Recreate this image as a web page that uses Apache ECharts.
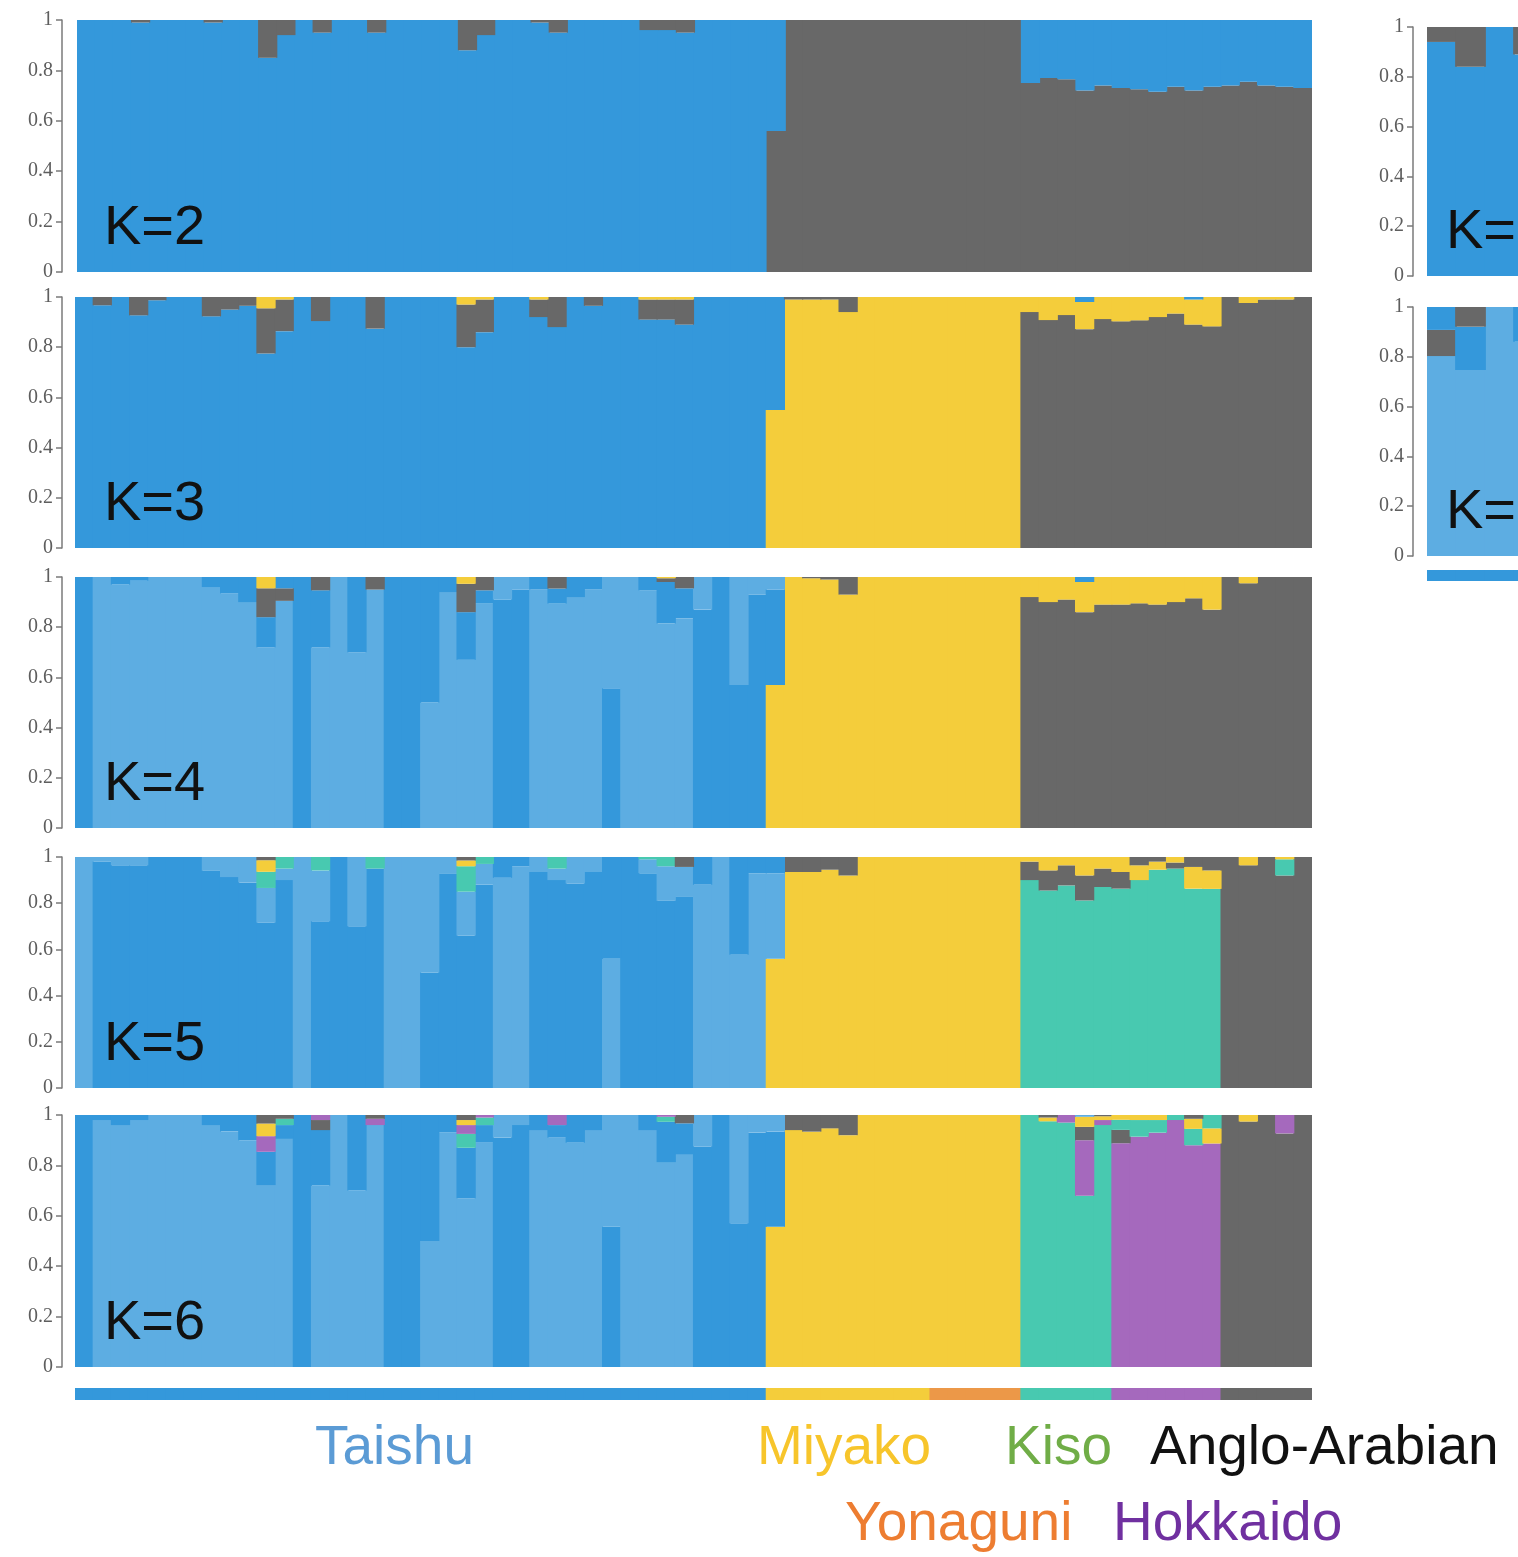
<!DOCTYPE html>
<html>
<head>
<meta charset="utf-8" />
<title>Structure K=2-6</title>
<style type="text/css">
  html, body { margin: 0; padding: 0; background: #fff; }
  #main { width: 1518px; height: 1557px; }
</style>
<script src="https://cdn.jsdelivr.net/npm/echarts@6.0.0/dist/echarts.min.js" type="text/javascript" charset="utf-8"></script>
</head>
<body>
<div id="main"></div>
<script type="text/javascript">
// populations in plot order
var popNames = ['Taishu', 'Miyako', 'Yonaguni', 'Kiso', 'Hokkaido', 'Anglo-Arabian'];
var popSizes = [38, 9, 5, 5, 6, 5];
var popBarColors = ['#3498db', '#f4cd3b', '#ec9848', '#48c9b0', '#a569bd', '#686868'];
var popTextColors = ['#5b9bd5', '#f7c52b', '#ed7d31', '#70ad47', '#7030a0', '#111111'];
var yTicks = [0, 0.2, 0.4, 0.6, 0.8, 1];

// ancestry proportions per individual (68), grouped 38 | 9 | 5 | 5 | 6 | 5
var k2Blue = [
  1,1,1,0.99,1,1,1,0.99,1,1,
  0.85,0.94,1,0.95,1,1,0.95,1,1,1,
  1,0.88,0.94,1,1,0.99,0.95,1,1,1,
  1,0.96,0.96,0.95,1,1,1,1,
  0.44,0,0,0,0,0,0,0,0,
  0,0,0,0,0,
  0.25,0.23,0.235,0.28,0.26,
  0.27,0.275,0.285,0.265,0.28,0.265,
  0.26,0.245,0.26,0.265,0.27];
var k2Gray = [
  0,0,0,0.01,0,0,0,0.01,0,0,
  0.15,0.06,0,0.05,0,0,0.05,0,0,0,
  0,0.12,0.06,0,0,0.01,0.05,0,0,0,
  0,0.04,0.04,0.05,0,0,0,0,
  0.56,1,1,1,1,1,1,1,1,
  1,1,1,1,1,
  0.75,0.77,0.765,0.72,0.74,
  0.73,0.725,0.715,0.735,0.72,0.735,
  0.74,0.755,0.74,0.735,0.73];

var k3Blue = [
  1,0.967,1,0.927,0.987,1,1,0.923,0.95,0.965,
  0.775,0.864,1,0.904,1,1,0.874,1,1,1,
  1,0.8,0.86,1,1,0.92,0.88,1,0.965,1,
  1,0.91,0.91,0.89,1,1,1,1,
  0.45,0,0,0,0,0,0,0,0,
  0,0,0,0,0,
  0,0,0,0.02,0,
  0,0,0,0,0.01,0,
  0,0,0,0,0];
var k3Yellow = [
  0,0,0,0,0,0,0,0,0,0,
  0.045,0.01,0,0,0,0,0,0,0,0,
  0,0.03,0.01,0,0,0.01,0,0,0,0,
  0,0.01,0.01,0.01,0,0,0,0,
  0.55,0.99,0.99,0.99,0.94,1,1,1,1,
  1,1,1,1,1,
  0.06,0.092,0.072,0.108,0.088,
  0.097,0.093,0.08,0.066,0.1,0.117,
  0,0.024,0.01,0.01,0];
var k3Gray = [
  0,0.033,0,0.073,0.013,0,0,0.077,0.05,0.035,
  0.18,0.126,0,0.096,0,0,0.126,0,0,0,
  0,0.17,0.13,0,0,0.07,0.12,0,0.035,0,
  0,0.08,0.08,0.1,0,0,0,0,
  0,0.01,0.01,0.01,0.06,0,0,0,0,
  0,0,0,0,0,
  0.94,0.908,0.928,0.872,0.912,
  0.903,0.907,0.92,0.934,0.89,0.883,
  1,0.976,0.99,0.99,1];

var k4Light = [
  0,1,0.97,0.985,1,1,1,0.96,0.935,0.9,
  0.72,0.905,0,0.72,1,0.7,0.95,0,0,0.5,
  0.94,0.67,0.894,0.09,0.05,0.95,0.894,0.92,0.95,0.443,
  1,0.947,0.815,0.835,0.13,0,0.43,0.07,
  0.05,0,0,0,0,0,0,0,0,
  0,0,0,0,0,
  0,0,0,0,0,
  0,0,0,0,0,0,
  0,0,0,0,0];
var k4Dark = [
  1,0,0.03,0.015,0,0,0,0.04,0.065,0.1,
  0.12,0.045,1,0.227,0,0.3,0,1,1,0.5,
  0.06,0.19,0.053,0.91,0.95,0.05,0.06,0.08,0.05,0.557,
  0,0.053,0.165,0.12,0.87,1,0.57,0.93,
  0.38,0,0,0,0,0,0,0,0,
  0,0,0,0,0,
  0,0,0,0.02,0,
  0,0,0,0,0,0,
  0,0,0,0,0];
var k4Yellow = [
  0,0,0,0,0,0,0,0,0,0,
  0.045,0,0,0,0,0,0,0,0,0,
  0,0.027,0,0,0,0,0,0,0,0,
  0,0,0.005,0,0,0,0,0,
  0.57,1,0.995,0.99,0.93,1,1,1,1,
  1,1,1,1,1,
  0.08,0.1,0.09,0.12,0.11,
  0.11,0.105,0.11,0.1,0.085,0.13,
  0,0.025,0,0,0];
var k4Gray = [
  0,0,0,0,0,0,0,0,0,0,
  0.115,0.05,0,0.053,0,0,0.05,0,0,0,
  0,0.113,0.053,0,0,0,0.046,0,0,0,
  0,0,0.015,0.045,0,0,0,0,
  0,0,0.005,0.01,0.07,0,0,0,0,
  0,0,0,0,0,
  0.92,0.9,0.91,0.86,0.89,
  0.89,0.895,0.89,0.9,0.915,0.87,
  1,0.975,1,1,1];

var k5Dark = [
  0,0.98,0.964,0.964,1,1,1,0.94,0.913,0.89,
  0.716,0.9,0,0.722,1,0.7,0.95,0,0,0.5,
  0.93,0.66,0.88,0.09,0.04,0.935,0.9,0.885,0.935,0.44,
  1,0.93,0.81,0.827,0.12,0,0.423,0.07,
  0.07,0,0,0,0,0,0,0,0,
  0,0,0,0,0,
  0,0,0,0,0,
  0,0,0,0,0,0,
  0,0,0,0,0];
var k5Light = [
  1,0.02,0.036,0.036,0,0,0,0.06,0.087,0.11,
  0.15,0.05,1,0.22,0,0.3,0,1,1,0.5,
  0.07,0.19,0.09,0.91,0.96,0.065,0.05,0.115,0.065,0.56,
  0,0.06,0.15,0.13,0.88,1,0.577,0.93,
  0.37,0,0,0,0,0,0,0,0,
  0,0,0,0,0,
  0,0,0,0,0,
  0,0,0,0,0,0,
  0,0,0,0,0];
var k5Yellow = [
  0,0,0,0,0,0,0,0,0,0,
  0.05,0,0,0,0,0,0,0,0,0,
  0,0.025,0,0,0,0,0,0,0,0,
  0,0,0,0,0,0,0,0,
  0.56,0.935,0.935,0.945,0.92,1,1,1,1,
  1,1,1,1,1,
  0.02,0.058,0.036,0.08,0.05,
  0.065,0.064,0.035,0.024,0.094,0.08,
  0,0.036,0,0.01,0];
var k5Teal = [
  0,0,0,0,0,0,0,0,0,0,
  0.07,0.05,0,0.058,0,0,0.05,0,0,0,
  0,0.11,0.03,0,0,0,0.05,0,0,0,
  0,0.01,0.04,0,0,0,0,0,
  0,0,0,0,0,0,0,0,0,
  0,0,0,0,0,
  0.9,0.855,0.877,0.812,0.87,
  0.863,0.9,0.945,0.95,0.863,0.862,
  0,0,0,0.07,0];
var k5Gray = [
  0,0,0,0,0,0,0,0,0,0,
  0.014,0,0,0,0,0,0,0,0,0,
  0,0.015,0,0,0,0,0,0,0,0,
  0,0,0,0.043,0,0,0,0,
  0,0.065,0.065,0.055,0.08,0,0,0,0,
  0,0,0,0,0,
  0.08,0.087,0.087,0.108,0.08,
  0.072,0.036,0.02,0.026,0.043,0.058,
  1,0.964,1,0.92,1];

var k6Light = [
  0,0.98,0.96,0.98,1,1,1,0.96,0.935,0.9,
  0.722,0.905,0,0.72,1,0.7,0.96,0,0,0.5,
  0.93,0.67,0.89,0.09,0.04,0.94,0.91,0.89,0.94,0.443,
  1,0.94,0.813,0.842,0.125,0,0.43,0.07,
  0.066,0,0,0,0,0,0,0,0,
  0,0,0,0,0,
  0,0,0,0.007,0,
  0,0,0,0,0,0,
  0,0,0,0,0];
var k6Dark = [
  1,0.02,0.04,0.02,0,0,0,0.04,0.065,0.1,
  0.132,0.055,1,0.22,0,0.3,0,1,1,0.5,
  0.07,0.2,0.07,0.91,0.96,0.06,0.05,0.11,0.06,0.557,
  0,0.06,0.16,0.125,0.875,1,0.57,0.93,
  0.377,0,0,0,0,0,0,0,0,
  0,0,0,0,0,
  0,0,0,0,0,
  0,0,0,0,0,0,
  0,0,0,0,0];
var k6Yellow = [
  0,0,0,0,0,0,0,0,0,0,
  0.05,0,0,0,0,0,0,0,0,0,
  0,0.02,0,0,0,0,0,0,0,0,
  0,0,0,0,0,0,0,0,
  0.557,0.94,0.934,0.947,0.92,1,1,1,1,
  1,1,1,1,1,
  0,0.015,0,0.04,0.015,
  0.019,0.02,0.02,0,0.04,0.06,
  0,0.026,0,0,0];
var k6Teal = [
  0,0,0,0,0,0,0,0,0,0,
  0,0.025,0,0,0,0,0,0,0,0,
  0,0.055,0.03,0,0,0,0,0,0,0,
  0,0,0.02,0,0,0,0,0,
  0,0,0,0,0,0,0,0,0,
  0,0,0,0,0,
  1,0.975,0.97,0.68,0.96,
  0.04,0.066,0.05,0.02,0.065,0.053,
  0,0,0,0,0];
var k6Purple = [
  0,0,0,0,0,0,0,0,0,0,
  0.062,0,0,0.02,0,0,0.025,0,0,0,
  0,0.035,0.01,0,0,0,0.04,0,0,0,
  0,0,0.007,0,0,0,0,0,
  0,0,0,0,0,0,0,0,0,
  0,0,0,0,0,
  0,0,0.03,0.22,0.02,
  0.888,0.914,0.93,0.98,0.88,0.887,
  0,0,0,0.073,0];
var k6Gray = [
  0,0,0,0,0,0,0,0,0,0,
  0.034,0.015,0,0.04,0,0,0.015,0,0,0,
  0,0.02,0,0,0,0,0,0,0,0,
  0,0,0,0.033,0,0,0,0,
  0,0.06,0.066,0.053,0.08,0,0,0,0,
  0,0,0,0,0,
  0,0.01,0,0.053,0.005,
  0.053,0,0,0,0.015,0,
  1,0.974,1,0.927,1];

// the cut-off panels on the right edge (only the first bars are visible)
var r1Blue = [0.94, 0.84, 1, 0.89];
var r1Gray = [0.06, 0.16, 0, 0.11];
var r2Light = [0.803, 0.747, 1, 0.86];
var r2Dark = [0.092, 0.174, 0, 0.14];
var r2Gray = [0.105, 0.079, 0, 0];

var cDark = '#3498db', cLight = '#5dade2', cYellow = '#f4cd3b',
    cTeal = '#48c9b0', cPurple = '#a569bd', cGray = '#686868';

var panels = [
  {label: 'K=2', comps: [k2Blue, k2Gray], colors: [cDark, cGray], left: 77, top: 20, width: 1235, height: 252, offset: 15, textX: 104},
  {label: 'K=3', comps: [k3Blue, k3Yellow, k3Gray], colors: [cDark, cYellow, cGray], left: 75, top: 297, width: 1237, height: 251, offset: 13, textX: 104},
  {label: 'K=4', comps: [k4Light, k4Dark, k4Yellow, k4Gray], colors: [cLight, cDark, cYellow, cGray], left: 75, top: 577, width: 1237, height: 251, offset: 13, textX: 104},
  {label: 'K=5', comps: [k5Dark, k5Light, k5Yellow, k5Teal, k5Gray], colors: [cDark, cLight, cYellow, cTeal, cGray], left: 75, top: 857, width: 1237, height: 231, offset: 13, textX: 104},
  {label: 'K=6', comps: [k6Light, k6Dark, k6Yellow, k6Teal, k6Purple, k6Gray], colors: [cLight, cDark, cYellow, cTeal, cPurple, cGray], left: 75, top: 1115, width: 1237, height: 252, offset: 13, textX: 104},
  {label: 'K=2', comps: [r1Blue, r1Gray], colors: [cDark, cGray], left: 1427, top: 27, width: 116, height: 249, offset: 14, textX: 1446},
  {label: 'K=3', comps: [r2Light, r2Dark, r2Gray], colors: [cLight, cDark, cGray], left: 1427, top: 307, width: 116, height: 249, offset: 14, textX: 1446}
];

var grids = [], xAxes = [], yAxes = [], series = [], graphics = [];

function baseGrid(left, top, width, height) {
  return {left: left, top: top, width: width, height: height, containLabel: false, outerBoundsMode: 'none'};
}

function catAxis(idx, n) {
  var cats = [];
  for (var i = 0; i < n; i++) cats.push(String(i + 1));
  return {gridIndex: idx, type: 'category', data: cats, show: false, boundaryGap: true};
}

// each bar: components stacked largest at the bottom, normalised to 1
// bars are drawn a touch wider than their band so neighbours overlap and no seams show
function stackLayers(comps, colors, idx) {
  var k = comps.length, n = comps[0].length;
  comps.forEach(function (a) { if (a.length !== n) throw new Error('length mismatch ' + a.length); });
  var layers = [];
  for (var p = 0; p < k; p++) layers.push([]);
  for (var i = 0; i < n; i++) {
    var order = [], sum = 0;
    for (var c = 0; c < k; c++) { order.push(c); sum += comps[c][i]; }
    order.sort(function (a, b) { return comps[b][i] - comps[a][i]; });
    for (var p2 = 0; p2 < k; p2++) {
      var cc = order[p2];
      layers[p2].push({value: comps[cc][i] / sum, itemStyle: {color: colors[cc]}});
    }
  }
  return layers.map(function (d) {
    return {type: 'bar', xAxisIndex: idx, yAxisIndex: idx, stack: 'q' + idx, data: d,
      barWidth: '106%', barGap: '0%', silent: true, animation: false};
  });
}

panels.forEach(function (pn, idx) {
  grids.push(baseGrid(pn.left, pn.top, pn.width, pn.height));
  xAxes.push(catAxis(idx, pn.comps[0].length));
  yAxes.push({
    gridIndex: idx, type: 'value', min: 0, max: 1, interval: 0.2, offset: pn.offset,
    axisLine: {show: true, lineStyle: {color: '#7a7a7a', width: 1.5}},
    axisTick: {show: true, length: 6, lineStyle: {color: '#7a7a7a', width: 1.5}},
    axisLabel: {fontFamily: 'Liberation Serif', fontSize: 20, color: '#5e5e5e', margin: 9,
      customValues: yTicks, formatter: function (v) { return String(+v.toFixed(1)); }},
    splitLine: {show: false}
  });
  series = series.concat(stackLayers(pn.comps, pn.colors, idx));
  graphics.push({type: 'text', x: pn.textX, y: pn.top + pn.height - 43, z: 100,
    style: {text: pn.label, font: '56px "Liberation Sans", Arial, sans-serif', fill: '#111',
      align: 'left', verticalAlign: 'middle', textAlign: 'left', textVerticalAlign: 'middle'}});
});

// population colour strips
function popStrip(left, top, width, height, colors) {
  var idx = grids.length;
  grids.push(baseGrid(left, top, width, height));
  xAxes.push(catAxis(idx, colors.length));
  yAxes.push({gridIndex: idx, type: 'value', min: 0, max: 1, show: false});
  series.push({type: 'bar', xAxisIndex: idx, yAxisIndex: idx, barWidth: '106%', silent: true, animation: false,
    data: colors.map(function (c) { return {value: 1, itemStyle: {color: c}}; })});
}
var stripColors = [];
popSizes.forEach(function (s, p) { for (var i = 0; i < s; i++) stripColors.push(popBarColors[p]); });
popStrip(75, 1388, 1237, 12, stripColors);
popStrip(1427, 570, 116, 11, r2Light.map(function () { return cDark; }));

// population names
var nameSpots = [[315, 1449], [757, 1449], [845, 1525], [1005, 1449], [1113, 1525], [1150, 1449]];
popNames.forEach(function (nm, p) {
  graphics.push({type: 'text', x: nameSpots[p][0], y: nameSpots[p][1], z: 100,
    style: {text: nm, font: '55px "Liberation Sans", Arial, sans-serif', fill: popTextColors[p],
      align: 'left', verticalAlign: 'middle', textAlign: 'left', textVerticalAlign: 'middle'}});
});

var chart = echarts.init(document.getElementById('main'), null, {renderer: 'canvas'});
chart.setOption({
  backgroundColor: '#ffffff',
  animation: false,
  grid: grids,
  xAxis: xAxes,
  yAxis: yAxes,
  series: series,
  graphic: graphics
});
</script>
</body>
</html>
